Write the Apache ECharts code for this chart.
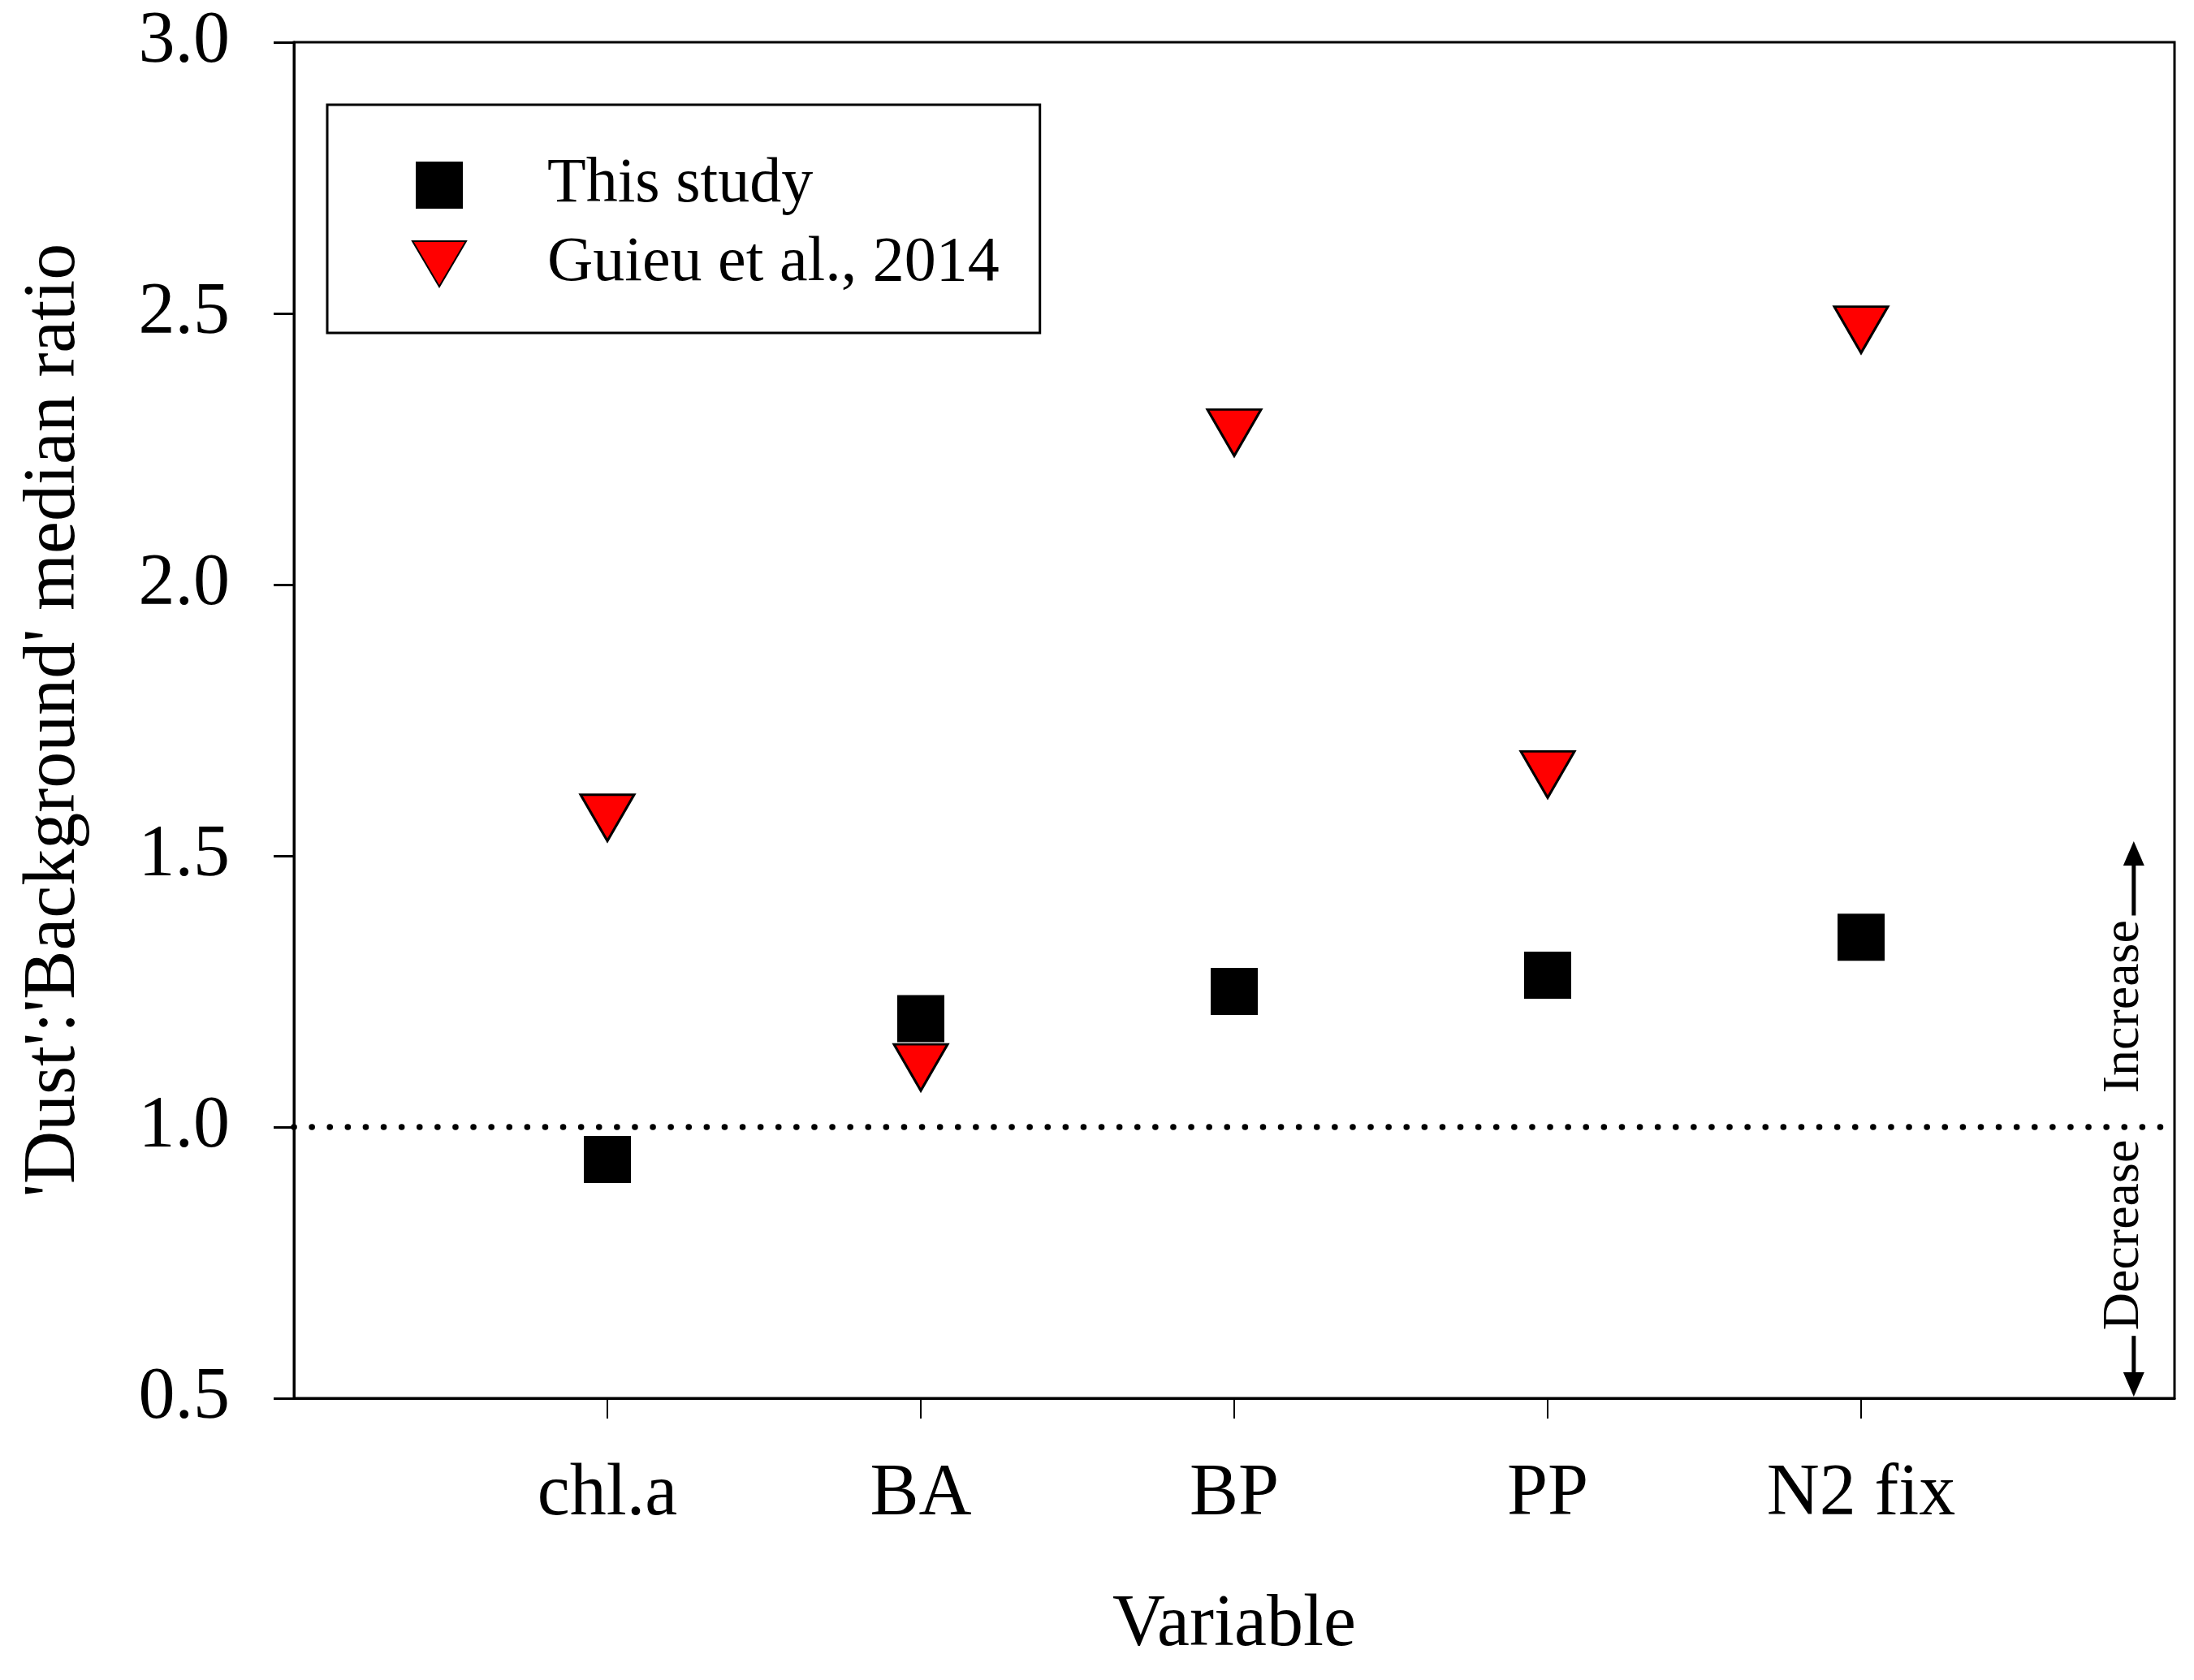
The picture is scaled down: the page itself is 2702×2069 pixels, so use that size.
<!DOCTYPE html>
<html lang="en">
<head>
<meta charset="utf-8" />
<title>Dust : Background median ratio</title>
<script src="https://cdn.jsdelivr.net/npm/echarts@6/dist/echarts.min.js"></script>
<style>html, body { margin: 0; padding: 0; background: #fff; }</style>
</head>
<body>
<div id="main" style="width: 2702px; height: 2069px;"></div>
<script type="text/javascript">
    // data
    var variables = ['chl.a', 'BA', 'BP', 'PP', 'N2 fix'];
    var thisStudy = [0.94, 1.20, 1.25, 1.28, 1.35];
    var guieu2014 = [1.57, 1.11, 2.28, 1.65, 2.47];
    var yTicks = [0.5, 1.0, 1.5, 2.0, 2.5, 3.0];
    var noChange = 1.0;

    var font = 'Liberation Serif';
    var triPath = 'path://M0,0L20,0L10,17Z';

    // where the Increase / Decrease note sits (data coords)
    var noteX = 5.87, noteTextX = 5.84;

    var myChart = echarts.init(document.getElementById('main'));

    var option = {
      animation: false,
      backgroundColor: '#fff',
      grid: {
        left: 362, right: 24, top: 52, bottom: 347,
        show: true, borderColor: '#000', borderWidth: 3
      },
      legend: {
        orient: 'vertical',
        left: 403, top: 129,
        padding: [60, 50, 46, 104],
        itemWidth: 66, itemHeight: 58, itemGap: 19,
        borderColor: '#000', borderWidth: 3,
        selectedMode: false,
        textStyle: { fontFamily: font, fontSize: 78, color: '#000', padding: [0, 0, 0, 95] },
        data: [
          { name: 'This study', icon: 'path://M0,0H10V10H0Z' },
          { name: 'Guieu et al., 2014', icon: triPath }
        ]
      },
      xAxis: {
        type: 'value',
        min: 0, max: 6, interval: 1,
        name: 'Variable',
        nameLocation: 'middle',
        nameGap: 235,
        nameTextStyle: { fontFamily: font, fontSize: 90, color: '#000' },
        axisLine: { lineStyle: { color: '#000', width: 3 } },
        axisTick: { inside: false, length: 25, lineStyle: { color: '#000', width: 2 }, customValues: [1, 2, 3, 4, 5] },
        axisLabel: {
          margin: 74, fontFamily: font, fontSize: 90, color: '#000',
          customValues: [1, 2, 3, 4, 5],
          formatter: function (v) { return variables[v - 1] || ''; }
        },
        splitLine: { show: false }
      },
      yAxis: {
        type: 'value',
        min: yTicks[0], max: yTicks[yTicks.length - 1], interval: 0.5,
        name: "'Dust':'Background' median ratio",
        nameLocation: 'middle',
        nameGap: 250,
        nameTextStyle: { fontFamily: font, fontSize: 90, color: '#000' },
        axisLine: { lineStyle: { color: '#000', width: 3 } },
        axisTick: { inside: false, length: 25, lineStyle: { color: '#000', width: 3 } },
        axisLabel: {
          margin: 79, fontFamily: font, fontSize: 90, color: '#000',
          formatter: function (v) { return v.toFixed(1); }
        },
        splitLine: { show: false }
      },
      series: [
        {
          name: 'This study',
          type: 'scatter',
          symbol: 'rect',
          symbolSize: [58, 58],
          itemStyle: { color: '#000', opacity: 1 },
          data: variables.map(function (v, i) { return [i + 1, thisStudy[i]]; }),
          markLine: {
            silent: true,
            symbol: 'none',
            label: { show: false },
            lineStyle: { color: '#000', width: 7.5, type: [0.1, 22], cap: 'round' },
            data: [{ yAxis: noChange }]
          }
        },
        {
          name: 'Guieu et al., 2014',
          type: 'scatter',
          symbol: triPath,
          symbolSize: [66, 57],
          itemStyle: { color: '#ff0000', borderColor: '#000', borderWidth: 3, opacity: 1 },
          data: variables.map(function (v, i) { return [i + 1, guieu2014[i]]; }),
          z: 3
        }
      ]
    };
    myChart.setOption(option);

    // Increase / Decrease arrows beside the 1.0 line
    function px(x, y) { return myChart.convertToPixel({ gridIndex: 0 }, [x, y]); }
    var upStart = px(noteX, 1.39), upTip = px(noteX, 1.527);
    var dnStart = px(noteX, 0.615), dnTip = px(noteX, 0.503);
    var head = 30, half = 13;
    var incPos = px(noteTextX, 1.222), decPos = px(noteTextX, 0.801);
    var noteStyle = { fontFamily: font, fontSize: 64, fill: '#000', align: 'center', verticalAlign: 'middle' };

    myChart.setOption({
      graphic: [
        { type: 'line', shape: { x1: upStart[0], y1: upStart[1], x2: upTip[0], y2: upTip[1] + head }, style: { stroke: '#000', lineWidth: 5 } },
        { type: 'polygon', shape: { points: [[upTip[0], upTip[1]], [upTip[0] - half, upTip[1] + head], [upTip[0] + half, upTip[1] + head]] }, style: { fill: '#000' } },
        { type: 'line', shape: { x1: dnStart[0], y1: dnStart[1], x2: dnTip[0], y2: dnTip[1] - head }, style: { stroke: '#000', lineWidth: 5 } },
        { type: 'polygon', shape: { points: [[dnTip[0], dnTip[1]], [dnTip[0] - half, dnTip[1] - head], [dnTip[0] + half, dnTip[1] - head]] }, style: { fill: '#000' } },
        { type: 'text', x: incPos[0], y: incPos[1], rotation: Math.PI / 2, style: Object.assign({ text: 'Increase' }, noteStyle) },
        { type: 'text', x: decPos[0], y: decPos[1], rotation: Math.PI / 2, style: Object.assign({ text: 'Decrease' }, noteStyle) }
      ]
    });
</script>
</body>
</html>
